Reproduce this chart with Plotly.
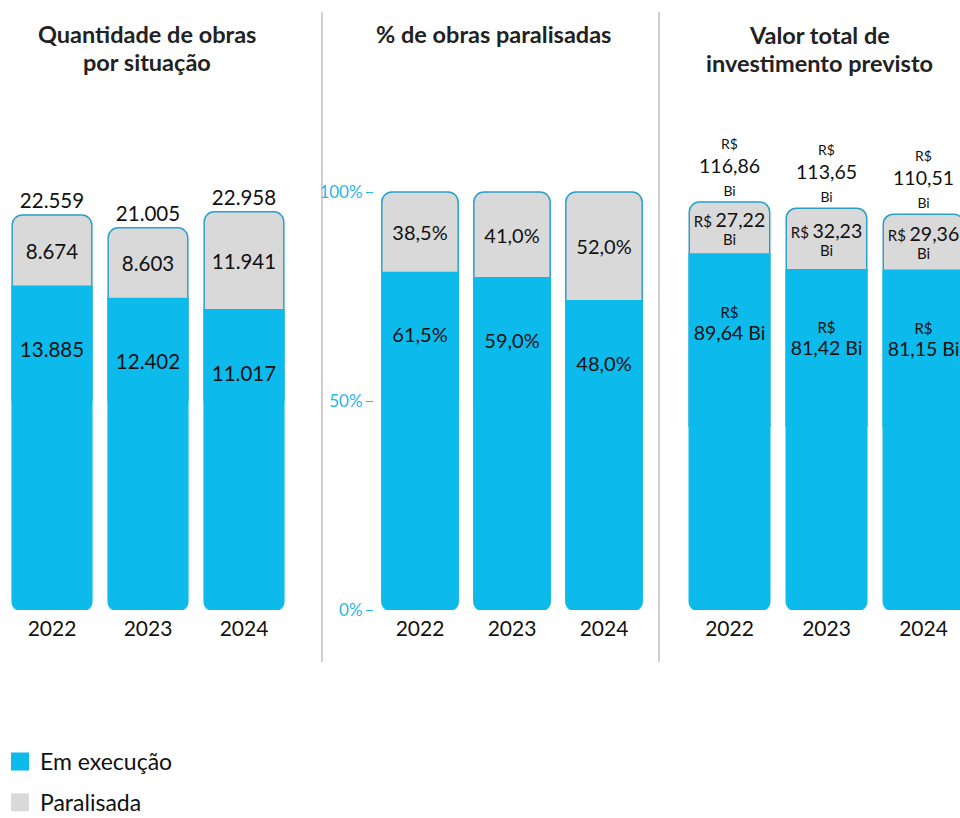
import plotly.graph_objects as go

years = ["2022", "2023", "2024"]

qtd_exec = [13885, 12402, 11017]
qtd_paral = [8674, 8603, 11941]
qtd_total = [22559, 21005, 22958]

pct_exec = [61.5, 59.0, 48.0]
pct_paral = [38.5, 41.0, 52.0]

val_exec = [89.64, 81.42, 81.15]
val_paral = [27.22, 32.23, 29.36]
val_total = [116.86, 113.65, 110.51]

pct_ticktext = ["0%", "50%", "100%"]

BLUE = "#0DBAEC"
GRAY = "#D9D9D9"
EDGE = "#2A9FC9"
TICK = "#29B6E9"
FONT = "Lato, Noto Sans, Arial"

W, H = 960, 818
PLOT_BOTTOM, PLOT_TOP = 610, 100


def fmt_int(v):
    return f"{v:,}".replace(",", ".")


def fmt_dec(v, nd):
    return f"{v:.{nd}f}".replace(".", ",")


def sized(s, size):
    return f"<span style='font-size:{size}px'>{s}</span>"


def add_panel(fig, col, exec_vals, paral_vals, total_vals, exec_text, paral_text,
              total_text, offset, px_per_unit, sizes, label_px):
    sx = "" if col == 1 else str(col)
    common = dict(x=years, xaxis="x" + sx, yaxis="y" + sx, width=0.83, showlegend=False,
                  hoverinfo="skip", cliponaxis=False, constraintext="none", textangle=0)
    s_tot, s_exec, s_par = sizes
    clear = dict(color="rgba(0,0,0,0)", line=dict(width=0))
    # gray (total) bar with outline
    fig.add_trace(go.Bar(
        y=total_vals, marker=dict(color=GRAY, line=dict(color=EDGE, width=1.5), cornerradius=10),
        text=total_text, textposition="outside" if total_text else "none",
        outsidetextfont=dict(size=s_tot, color="#111", family=FONT), **common))
    # blue bar (em execução)
    fig.add_trace(go.Bar(
        y=exec_vals, marker=dict(color=BLUE, line=dict(color=BLUE, width=1.5), cornerradius=8),
        textposition="none", **common))
    # blue stem below zero with rounded bottom
    fig.add_trace(go.Bar(
        y=[-offset] * len(years), marker=dict(color=BLUE, line=dict(color=BLUE, width=1.5), cornerradius=8),
        textposition="none", **common))
    # invisible bar carrying the execução label a fixed distance below the blue top
    d = 2 * label_px / px_per_unit
    fig.add_trace(go.Bar(
        y=[d] * len(years), base=[v - d for v in exec_vals], marker=clear,
        text=exec_text, textposition="inside", insidetextanchor="middle",
        insidetextfont=dict(size=s_exec, color="#111", family=FONT), **common))
    # invisible bar carrying the paralisada label
    fig.add_trace(go.Bar(
        y=paral_vals, base=exec_vals, marker=clear,
        text=paral_text, textposition="inside", insidetextanchor="middle",
        insidetextfont=dict(size=s_par, color="#111", family=FONT), **common))

    span = (PLOT_BOTTOM - PLOT_TOP) / px_per_unit
    fig.update_layout({"yaxis" + sx: dict(range=[-offset, -offset + span])})


fig = go.Figure()

add_panel(fig, 1, qtd_exec, qtd_paral, qtd_total,
          [fmt_int(v) for v in qtd_exec],
          [fmt_int(v) for v in qtd_paral],
          [fmt_int(v) for v in qtd_total],
          25600, 0.0082, (20.5, 20.5, 20.5), 63)

pct_total = [a + b for a, b in zip(pct_exec, pct_paral)]
add_panel(fig, 2, pct_exec, pct_paral, pct_total,
          [fmt_dec(v, 1) + "%" for v in pct_exec],
          [fmt_dec(v, 1) + "%" for v in pct_paral],
          None, 100, 2.09, (20, 20, 20), 62)

add_panel(fig, 3, val_exec, val_paral, val_total,
          [sized("R$", 15) + "<br>" + sized(fmt_dec(v, 2) + " Bi", 19.5) for v in val_exec],
          [sized("R$", 15) + " " + sized(fmt_dec(v, 2), 19.5) + "<br>" + sized("Bi", 15) for v in val_paral],
          [sized("R$", 14) + "<br>" + sized(fmt_dec(v, 2), 19.5) + "<br>" + sized("Bi", 14) for v in val_total],
          96.5, 1.912, (18, 17, 14), 69)

# legend entries
fig.add_trace(go.Scatter(x=[None], y=[None], mode="markers", name="Em execução", legendgroup="a",
                         marker=dict(symbol="square", size=16, color=BLUE, line=dict(color=BLUE, width=2))))
fig.add_trace(go.Scatter(x=[None], y=[None], mode="markers", name="Paralisada", legendgroup="b",
                         marker=dict(symbol="square", size=16, color=GRAY, line=dict(color=GRAY, width=2))))

ydom = [(H - PLOT_BOTTOM) / H, (H - PLOT_TOP) / H]
xdoms = [[4 / W, 292 / W], [374 / W, 650 / W], [681 / W, 1.0]]
xranges = [[-0.5, 2.5], [-0.5, 2.5], [-0.5, 2.5 - 12 / 97]]

for i in range(3):
    sx = "" if i == 0 else str(i + 1)
    fig.update_layout({
        "xaxis" + sx: dict(
            domain=xdoms[i], range=xranges[i], type="category", showgrid=False, showline=False,
            zeroline=False, ticks="", ticklabelstandoff=4, automargin=False,
            tickfont=dict(size=21, color="#111", family=FONT), anchor="y" + sx),
        "yaxis" + sx: dict(domain=ydom, showgrid=False, zeroline=False, anchor="x" + sx,
                           automargin=False, visible=(i == 1)),
    })

fig.update_layout(yaxis2=dict(
    tickvals=[-100, 0, 100], ticktext=pct_ticktext, ticks="outside", ticklen=7,
    tickcolor=TICK, tickfont=dict(size=17, color=TICK, family=FONT),
    showline=False, showticklabels=True))

title_lines = [
    ("Quantidade de obras", 147, 34),
    ("por situação", 147, 62),
    ("% de obras paralisadas", 493, 34),
    ("Valor total de", 819, 35),
    ("investimento previsto", 819, 63),
]
for text, xc, yc in title_lines:
    fig.add_annotation(text=f"<b>{text}</b>", x=xc / W, y=(H - yc) / H, xref="paper", yref="paper",
                       xanchor="center", yanchor="middle", showarrow=False,
                       font=dict(size=23.5, color="#222", family=FONT))

for xs in (322, 659):
    fig.add_shape(type="line", xref="paper", yref="paper", x0=xs / W, x1=xs / W,
                  y0=(H - 12) / H, y1=(H - 662) / H, line=dict(color="#AFAFAF", width=1.2))

fig.update_layout(
    width=W, height=H, autosize=False, barmode="overlay",
    margin=dict(l=0, r=0, t=0, b=0, autoexpand=False),
    paper_bgcolor="white", plot_bgcolor="white",
    font=dict(family=FONT, size=18, color="#111"),
    showlegend=True,
    legend=dict(x=0.0, y=(H - 740) / H, xanchor="left", yanchor="top", orientation="v",
                tracegroupgap=8, font=dict(size=23, color="#111", family=FONT),
                bgcolor="rgba(0,0,0,0)"),
)

fig.write_html("out.html", config={"responsive": False, "displayModeBar": False},
               post_script="document.body.style.margin='0';")
